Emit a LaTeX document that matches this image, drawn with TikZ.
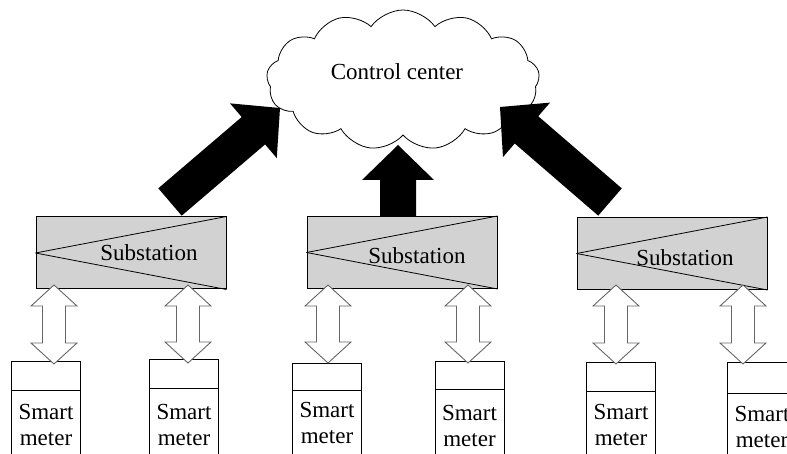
\documentclass[tikz,border=0pt]{standalone}
\usepackage{fontspec}
\setmainfont{Liberation Serif}
\usetikzlibrary{shapes.symbols,calc}
\newcommand{\bigarrow}[2]{%
  \coordinate (ba-base) at ($(#2)!35pt!(#1)$);
  \fill[black] ($(#1)!18pt!90:(#2)$) -- ($(ba-base)!18pt!90:(#2)$) -- ($(ba-base)!36pt!90:(#2)$) -- (#2)
    -- ($(ba-base)!36pt!-90:(#2)$) -- ($(ba-base)!18pt!-90:(#2)$) -- ($(#1)!18pt!-90:(#2)$) -- cycle;}
\newcommand{\dblarrow}[2]{%
  \draw[dblarr] let \p1=(#1), \p2=(#2) in
    (\x1,\y1) -- (\x1-23pt,\y1-21pt) -- (\x1-11.5pt,\y1-21pt) -- (\x1-11.5pt,\y2+21pt)
    -- (\x1-23pt,\y2+21pt) -- (\x1,\y2) -- (\x1+23pt,\y2+21pt) -- (\x1+11.5pt,\y2+21pt)
    -- (\x1+11.5pt,\y1-21pt) -- (\x1+23pt,\y1-21pt) -- cycle;}
\begin{document}
\begin{tikzpicture}[x=1pt,y=-1pt,
  every node/.style={font=\fontsize{23}{26}\selectfont},
  subbox/.style={draw=black, line width=1pt, fill=gray!35, minimum width=190pt, minimum height=72pt, inner sep=0pt},
  meterbox/.style={draw=black, line width=1pt, fill=white, minimum width=69pt, minimum height=130pt, inner sep=0pt, anchor=north},
  metertext/.style={align=center, inner sep=0pt, anchor=north},
  dblarr/.style={draw=gray!80!black, line width=0.9pt, fill=white, line join=miter}]
\useasboundingbox (0,0) rectangle (787,454);
\clip (0,0) rectangle (787,454);
% cloud
\node[cloud, draw=black, line width=0.8pt, cloud puffs=13, cloud puff arc=110, aspect=1.95,
  minimum width=273pt, minimum height=140pt, inner sep=0pt] (cc) at (403,80) {};
\node (cct) at (397,72) {Control center};
% substations
\node[subbox, label={[xshift=18pt, yshift=0pt]center:Substation}] (s1) at (131,253) {};
\node[subbox, label={[xshift=15pt, yshift=-3pt]center:Substation}] (s2) at (402,252.5) {};
\node[subbox, label={[xshift=13pt, yshift=-4pt]center:Substation}] (s3) at (672,253.5) {};
\foreach \s in {s1,s2,s3}{
  \draw[line width=0.8pt] (\s.west) -- (\s.north east);
  \draw[line width=0.8pt] (\s.west) -- (\s.south east);
}
% big arrows
\coordinate (t1) at (170,202); \coordinate (h1) at (280,108);
\coordinate (t2) at (398,217); \coordinate (h2) at (398,145);
\coordinate (t3) at (610,202); \coordinate (h3) at (500,107);
\bigarrow{t1}{h1}
\bigarrow{t2}{h2}
\bigarrow{t3}{h3}
% smart meters
\node[meterbox] (m1) at (46,361) {};
\node[meterbox] (m2) at (184,359) {};
\node[meterbox] (m3) at (327,363) {};
\node[meterbox] (m4) at (469.5,361) {};
\node[meterbox] (m5) at (621,362) {};
\node[meterbox] (m6) at (762,362) {};
\foreach \m/\d in {m1/29,m2/29,m3/27,m4/28,m5/29,m6/31}{
  \draw[line width=1pt] ($(\m.north west)+(0,\d)$) -- ($(\m.north east)+(0,\d)$);
}
\node[metertext] (tm1) at (46,404) {Smart\\meter};
\node[metertext] (tm2) at (184,404) {Smart\\meter};
\node[metertext] (tm3) at (327,402) {Smart\\meter};
\node[metertext] (tm4) at (469.5,405) {Smart\\meter};
\node[metertext] (tm5) at (621,404) {Smart\\meter};
\node[metertext] (tm6) at (762,406) {Smart\\meter};
% double arrows
\coordinate (a1t) at (54,285);  \coordinate (a1b) at (54,364);
\coordinate (a2t) at (188,285); \coordinate (a2b) at (188,363);
\coordinate (a3t) at (328,285); \coordinate (a3b) at (328,363);
\coordinate (a4t) at (468,285); \coordinate (a4b) at (468,363);
\coordinate (a5t) at (616,285); \coordinate (a5b) at (616,364);
\coordinate (a6t) at (743,285); \coordinate (a6b) at (743,364);
\dblarrow{a1t}{a1b}
\dblarrow{a2t}{a2b}
\dblarrow{a3t}{a3b}
\dblarrow{a4t}{a4b}
\dblarrow{a5t}{a5b}
\dblarrow{a6t}{a6b}
\end{tikzpicture}
\end{document}
